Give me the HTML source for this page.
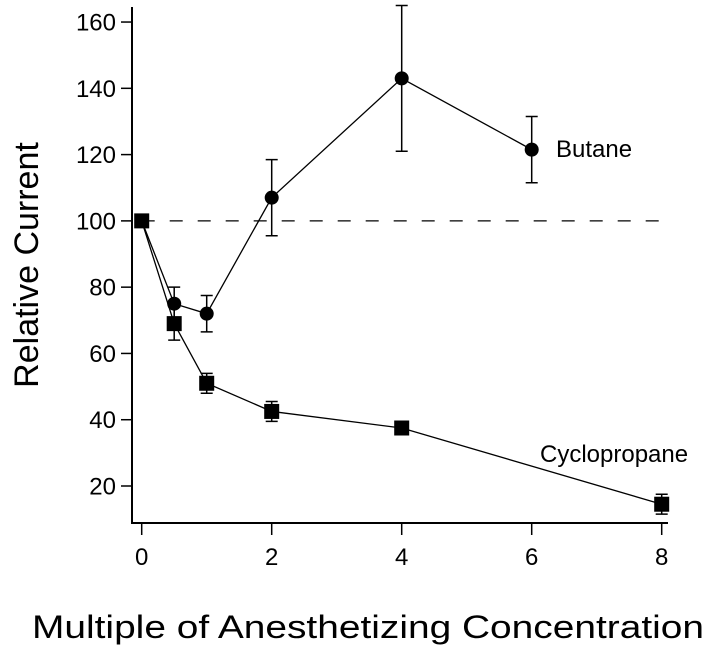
<!DOCTYPE html>
<html><head><meta charset="utf-8"><style>
html,body{margin:0;padding:0;background:#fff;}
svg{display:block;font-family:"Liberation Sans",Arial,sans-serif;}
</style></head><body>
<svg id="chart" width="721" height="652" viewBox="0 0 721 652" xmlns="http://www.w3.org/2000/svg">
<g id="axes"></g>
<g id="marks"></g>
<text transform="translate(38,265) rotate(-90)" text-anchor="middle" font-size="34" fill="#000">Relative Current</text>
<text x="368" y="638" text-anchor="middle" font-size="32" textLength="672" lengthAdjust="spacingAndGlyphs" fill="#000">Multiple of Anesthetizing Concentration</text>
<text x="556" y="157" font-size="24" fill="#000">Butane</text>
<text x="540" y="462" font-size="24" fill="#000">Cyclopropane</text>
</svg>
<script>
const xTicks=[0,2,4,6,8];
const yTicks=[20,40,60,80,100,120,140,160];
const butaneX=[0,0.5,1,2,4,6];
const butaneY=[100,75,72,107,143,121.5];
const butaneErr=[0,5,5.5,11.5,22,10];
const cycloX=[0,0.5,1,2,4,8];
const cycloY=[100,69,51,42.5,37.5,14.5];
const cycloErr=[0,5,3,3,1.5,3];
const refLine=100;

const NS="http://www.w3.org/2000/svg";
const X=v=>141.7+v*65;
const Y=v=>486-(v-20)*3.314;
function mk(t,a,p){const e=document.createElementNS(NS,t);for(const k in a)e.setAttribute(k,a[k]);p.appendChild(e);return e;}
const axes=document.getElementById('axes'),marks=document.getElementById('marks');
let l=mk('line',{x1:132,y1:7,x2:132,y2:523,stroke:'#000','stroke-width':2},axes);


l=mk('line',{x1:131,y1:523,x2:668,y2:523,stroke:'#000','stroke-width':2},axes);


yTicks.forEach(v=>{
 const t=mk('line',{x1:121,x2:132,y1:Y(v),y2:Y(v),stroke:'#000','stroke-width':1.5},axes);
 
 
 const s=mk('text',{x:116,y:Y(v)+8.5,'text-anchor':'end','font-size':24,fill:'#000'},axes);
 s.textContent=v;
 
 
});
xTicks.forEach(v=>{
 const t=mk('line',{x1:X(v),x2:X(v),y1:523,y2:535,stroke:'#000','stroke-width':1.5},axes);
 
 
 const s=mk('text',{x:X(v),y:565,'text-anchor':'middle','font-size':24,fill:'#000'},axes);
 s.textContent=v;
 
 
});
l=mk('line',{x1:X(0),x2:X(8),y1:Y(refLine),y2:Y(refLine),stroke:'#000','stroke-width':1.3,'stroke-dasharray':'13,15'},marks);


function series(xs,ys,es,name,square){
 const p=mk('polyline',{points:xs.map((x,i)=>X(x)+','+Y(ys[i])).join(' '),fill:'none',stroke:'#000','stroke-width':1.3},marks);
 
 
 xs.forEach((x,i)=>{
  const cx=X(x),cy=Y(ys[i]);
  if(es[i]>0){
   const g=mk('path',{d:`M${cx},${Y(ys[i]+es[i])}V${Y(ys[i]-es[i])}M${cx-6},${Y(ys[i]+es[i])}h12M${cx-6},${Y(ys[i]-es[i])}h12`,stroke:'#000','stroke-width':1.5,fill:'none'},marks);
   
   
  }
  const m=square?mk('rect',{x:cx-7.5,y:cy-7.5,width:15,height:15,fill:'#000'},marks):mk('circle',{cx:cx,cy:cy,r:7,fill:'#000'},marks);
  
  
 });
}
series(butaneX,butaneY,butaneErr,'butane',false);
series(cycloX,cycloY,cycloErr,'cyclopropane',true);
</script>
</body></html>
